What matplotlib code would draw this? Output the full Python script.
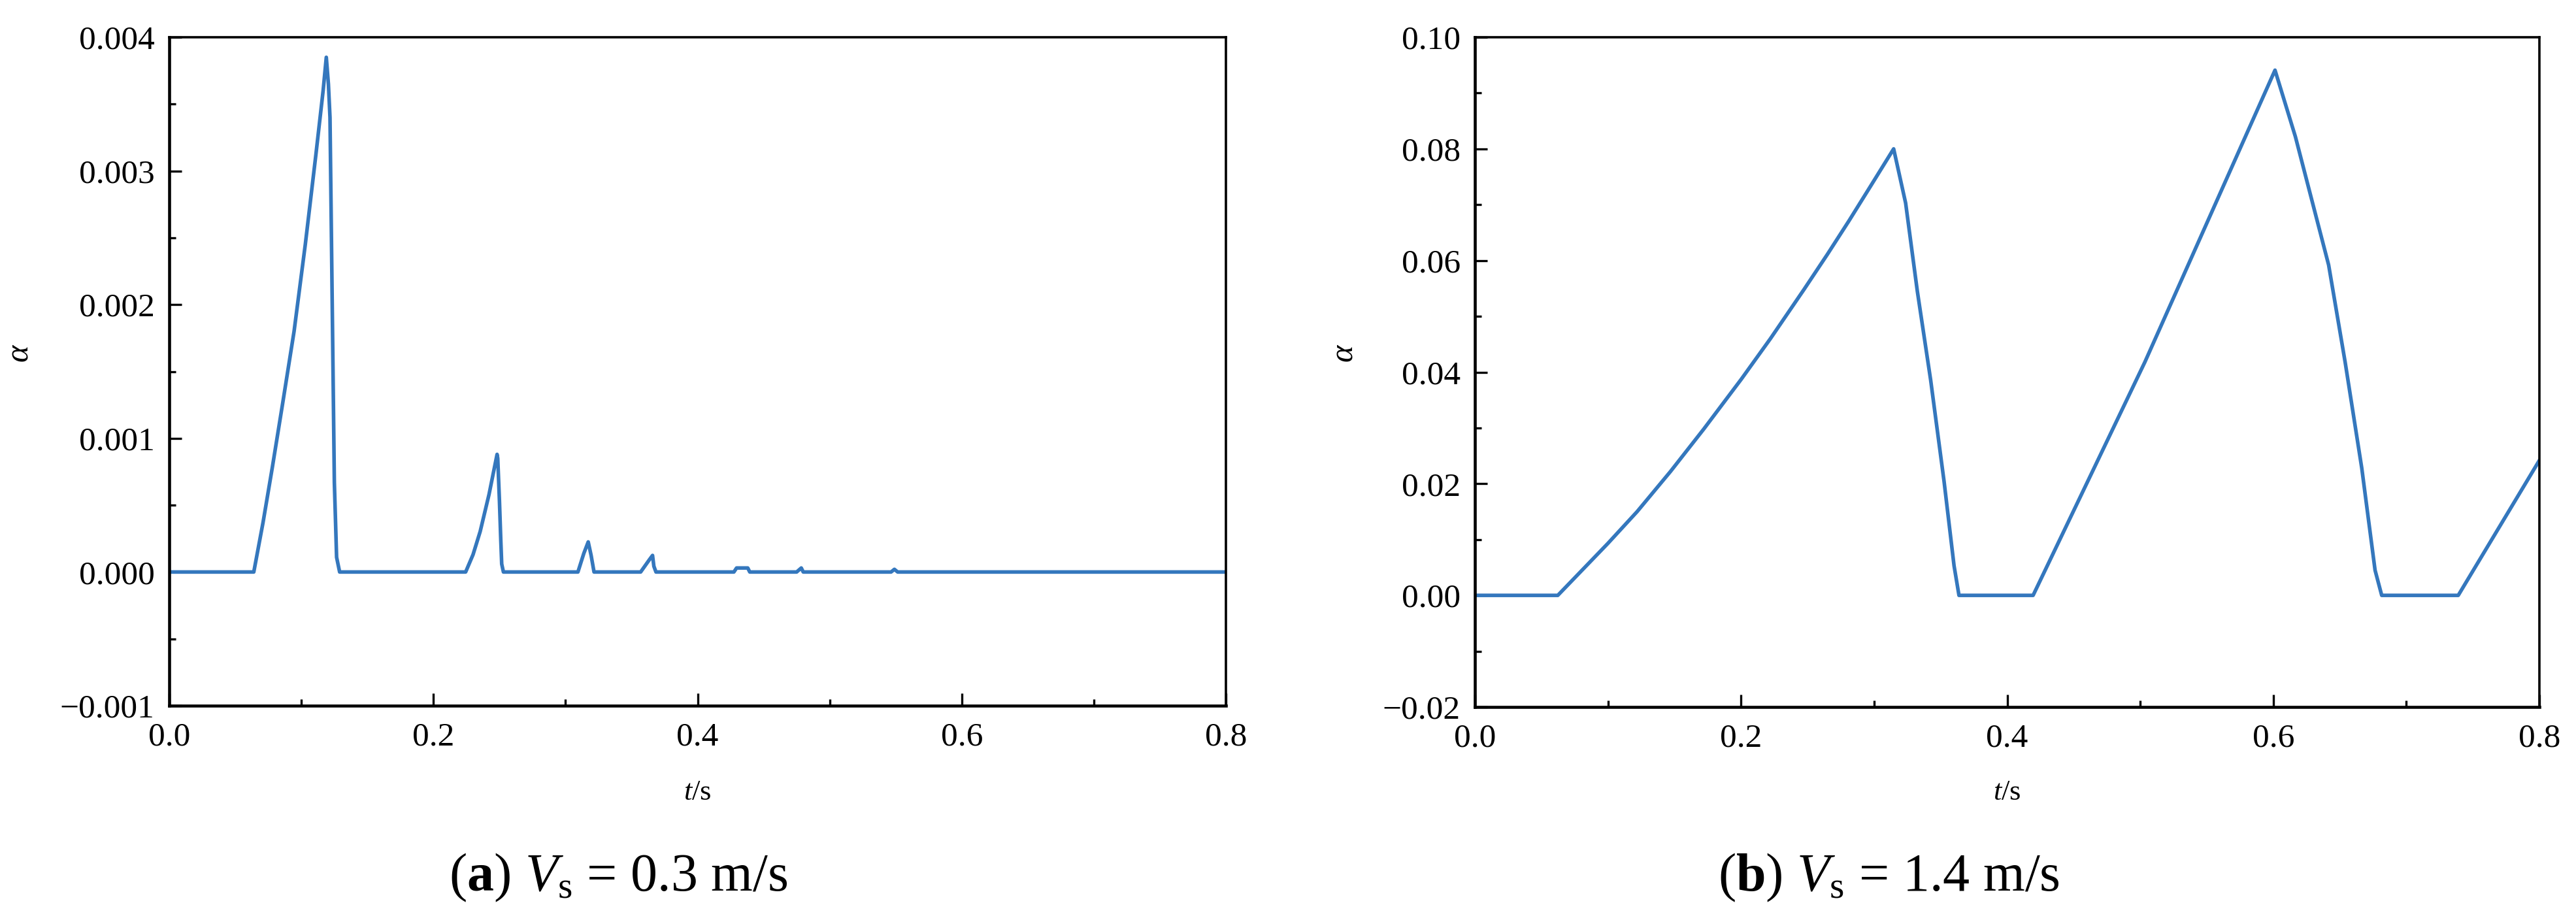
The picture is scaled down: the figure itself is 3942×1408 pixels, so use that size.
import numpy as np
import matplotlib
matplotlib.use("Agg")
import matplotlib.pyplot as plt
from matplotlib.ticker import MultipleLocator, FuncFormatter

plt.rcParams['font.family'] = ['Liberation Serif', 'DejaVu Serif']
plt.rcParams['mathtext.fontset'] = 'custom'
plt.rcParams['mathtext.rm'] = 'Liberation Serif'
plt.rcParams['mathtext.it'] = 'Liberation Serif:italic'
plt.rcParams['mathtext.bf'] = 'Liberation Serif:bold'

# (a) Vs = 0.3 m/s
t_a = [0.0, 0.064, 0.071, 0.078, 0.086, 0.0945, 0.103, 0.111, 0.1165, 0.1189,
       0.1205, 0.1217, 0.1233, 0.125, 0.1267, 0.129,
       0.2244, 0.230, 0.2354, 0.2421, 0.2482, 0.2487, 0.250, 0.251, 0.2517, 0.253,
       0.3094, 0.3139, 0.3172, 0.3194, 0.3216,
       0.3569, 0.3635, 0.3659, 0.3669, 0.3685,
       0.4275, 0.4295, 0.438, 0.4395,
       0.475, 0.4785, 0.480,
       0.5465, 0.549, 0.5515, 0.8]
alpha_a = [0.0, 0.0, 0.00037, 0.00078, 0.00127, 0.0018, 0.00245, 0.00312, 0.0036, 0.00385,
           0.00365, 0.0034, 0.00208, 0.00067, 0.00011, 0.0,
           0.0, 0.00013, 0.000303, 0.00058, 0.00088, 0.00085, 0.00053, 0.00024, 0.00006, 0.0,
           0.0, 0.00014, 0.000225, 0.000124, 0.0,
           0.0, 0.000092, 0.000124, 0.000043, 0.0,
           0.0, 0.00003, 0.00003, 0.0,
           0.0, 0.00003, 0.0,
           0.0, 0.00002, 0.0, 0.0]

# (b) Vs = 1.4 m/s
t_b = [0.0, 0.0623, 0.0805, 0.0999, 0.1219, 0.147, 0.172, 0.2001, 0.2221, 0.2473,
       0.2649, 0.2811, 0.2973, 0.3147, 0.3237, 0.3325,
       0.3425, 0.3526, 0.3601, 0.3638, 0.4195, 0.5035, 0.6013, 0.6166, 0.6416,
       0.654, 0.6665, 0.6765, 0.6815, 0.739, 0.8]
alpha_b = [0.0, 0.0, 0.0045, 0.0093, 0.0150, 0.0222, 0.0298, 0.0387, 0.0460, 0.0548,
           0.0611, 0.0671, 0.0733, 0.0800, 0.0703, 0.0545,
           0.0386, 0.0204, 0.0053, 0.0, 0.0, 0.0418, 0.0941, 0.0822, 0.0592,
           0.0418, 0.0228, 0.0045, 0.0, 0.0, 0.0242]

captions = [r"($\mathbf{a}$) $V_\mathrm{s}$ = 0.3 m/s", r"($\mathbf{b}$) $V_\mathrm{s}$ = 1.4 m/s"]

W, H = 3942, 1408
fig = plt.figure(figsize=(W / 100, H / 100), dpi=100)
line_color = '#3477bd'


def fmt(dec):
    return FuncFormatter(lambda v, p: f"{v:.{dec}f}".replace('-', '\u2212') if abs(v) > 1e-12
                         else f"{0:.{dec}f}")


def panel(rect, t, a, ylim, ymaj, ymin, ydec, lab_x, cap_x, cap):
    ax = fig.add_axes(rect)
    ax.plot(t, a, color=line_color, lw=4.0, solid_joinstyle='round', solid_capstyle='round')
    ax.set_xlim(0, 0.8)
    ax.set_ylim(*ylim)
    ax.xaxis.set_major_locator(MultipleLocator(0.2))
    ax.xaxis.set_minor_locator(MultipleLocator(0.1))
    ax.yaxis.set_major_locator(MultipleLocator(ymaj))
    ax.yaxis.set_minor_locator(MultipleLocator(ymin))
    ax.xaxis.set_major_formatter(fmt(1))
    ax.yaxis.set_major_formatter(fmt(ydec))
    ax.tick_params(which='both', direction='in', top=False, right=False, width=2.4, labelsize=37)
    ax.tick_params(which='major', length=14)
    ax.tick_params(which='minor', length=7)
    ax.tick_params(axis='x', pad=18)
    ax.tick_params(axis='y', pad=16)
    for s in ['left', 'bottom']:
        ax.spines[s].set_linewidth(3.3)
    for s in ['top', 'right']:
        ax.spines[s].set_linewidth(2.6)
    x0, y0, w, h = rect
    fig.text(lab_x / W, 1 - 540 / H, r"$\alpha$", rotation=90, ha='center', va='center', fontsize=36)
    fig.text(x0 + w / 2, 1 - 1213 / H, r"$t$/s", ha='center', va='center', fontsize=32)
    fig.text(cap_x / W, 1 - 1343 / H, cap, ha='center', va='center', fontsize=59)
    return ax


panel([259 / W, 1 - 1080 / H, 1617 / W, 1023 / H], t_a, alpha_a, (-0.001, 0.004),
      0.001, 0.0005, 3, 30, 946, captions[0])
panel([2257 / W, 1 - 1082 / H, 1629 / W, 1025 / H], t_b, alpha_b, (-0.02, 0.10),
      0.02, 0.01, 2, 2057, 2890, captions[1])

fig.savefig("out.png", dpi=100)
